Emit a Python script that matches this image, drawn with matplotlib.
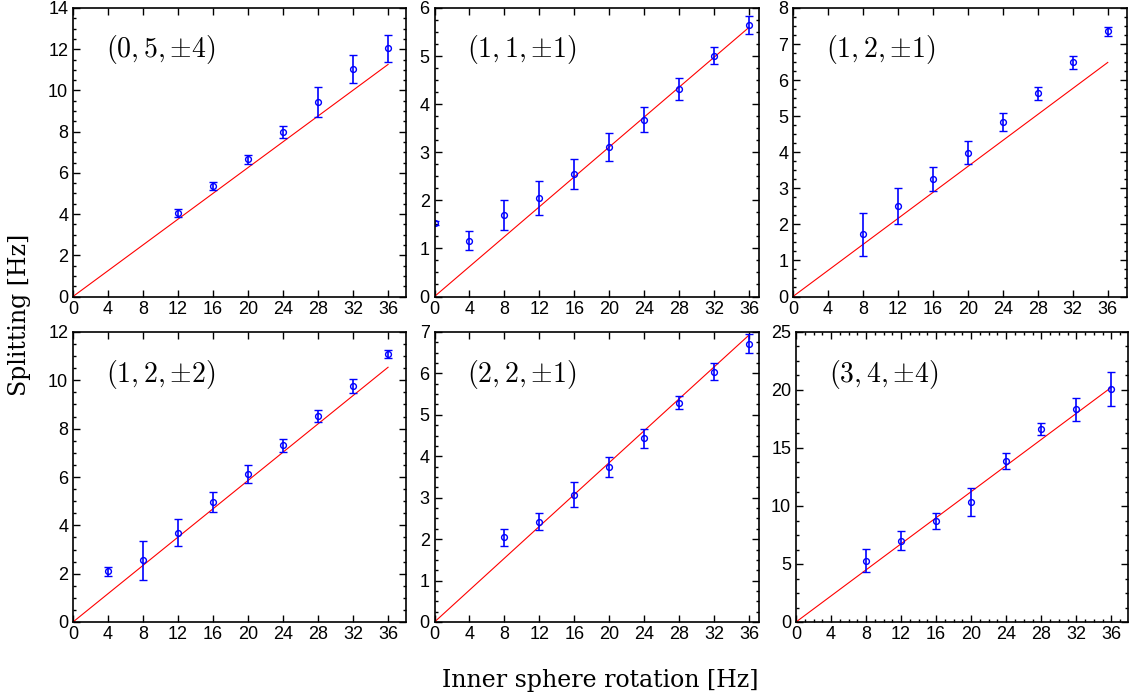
import numpy as np
import matplotlib.pyplot as plt
from matplotlib.ticker import MultipleLocator, AutoMinorLocator

plt.rcParams['mathtext.fontset'] = 'cm'

# mode labels (l, m, ±k)
labels = [r'$(0,5,{\pm}4)$', r'$(1,1,{\pm}1)$', r'$(1,2,{\pm}1)$',
          r'$(1,2,{\pm}2)$', r'$(2,2,{\pm}1)$', r'$(3,4,{\pm}4)$']

# inner sphere rotation [Hz]
rot_05_4 = [12, 16, 20, 24, 28, 32, 36]
rot_11_1 = [0, 4, 8, 12, 16, 20, 24, 28, 32, 36]
rot_12_1 = [8, 12, 16, 20, 24, 28, 32, 36]
rot_12_2 = [4, 8, 12, 16, 20, 24, 28, 32, 36]
rot_22_1 = [8, 12, 16, 20, 24, 28, 32, 36]
rot_34_4 = [8, 12, 16, 20, 24, 28, 32, 36]

# measured splitting [Hz]
split_05_4 = [4.05, 5.38, 6.66, 7.99, 9.45, 11.05, 12.04]
split_11_1 = [1.53, 1.16, 1.70, 2.05, 2.55, 3.11, 3.68, 4.31, 5.01, 5.65]
split_12_1 = [1.72, 2.50, 3.25, 3.99, 4.83, 5.63, 6.49, 7.35]
split_12_2 = [2.10, 2.55, 3.70, 4.96, 6.12, 7.31, 8.52, 9.77, 11.09]
split_22_1 = [2.04, 2.42, 3.07, 3.74, 4.43, 5.29, 6.04, 6.72]
split_34_4 = [5.30, 7.02, 8.70, 10.38, 13.90, 16.62, 18.35, 20.09]

# error bars [Hz]
err_05_4 = [0.20, 0.19, 0.22, 0.30, 0.72, 0.67, 0.66]
err_11_1 = [0.05, 0.20, 0.31, 0.36, 0.31, 0.29, 0.26, 0.23, 0.18, 0.19]
err_12_1 = [0.60, 0.50, 0.33, 0.31, 0.25, 0.19, 0.19, 0.12]
err_12_2 = [0.18, 0.80, 0.55, 0.42, 0.37, 0.27, 0.25, 0.29, 0.15]
err_22_1 = [0.20, 0.21, 0.30, 0.25, 0.22, 0.16, 0.20, 0.22]
err_34_4 = [0.98, 0.81, 0.69, 1.20, 0.71, 0.50, 1.00, 1.50]

# linear prediction: splitting / rotation
slopes = [0.3128, 0.1555, 0.1803, 0.2928, 0.1924, 0.562]
fit_range = [0, 36]

rots = [rot_05_4, rot_11_1, rot_12_1, rot_12_2, rot_22_1, rot_34_4]
splits = [split_05_4, split_11_1, split_12_1, split_12_2, split_22_1, split_34_4]
errs = [err_05_4, err_11_1, err_12_1, err_12_2, err_22_1, err_34_4]

ymax = [14, 6, 8, 12, 7, 25]
ystep = [2, 1, 1, 2, 1, 5]

W, H = 1130, 698
# panel boxes in pixels: left, right, top, bottom
boxes = [(73, 406, 8, 296.5), (434.5, 759, 8, 296.5), (793, 1127, 8, 296.5),
         (73, 406, 332, 622), (434.5, 759, 332, 622), (796, 1128, 332, 622)]
xmax = [38.05, 37.14, 38.2, 38.05, 37.14, 37.9]

fig = plt.figure(figsize=(W / 100, H / 100), dpi=100)

for i in range(6):
    l, r, t, b = boxes[i]
    ax = fig.add_axes([l / W, 1 - b / H, (r - l) / W, (b - t) / H])

    fx = np.array(fit_range)
    ax.plot(fx, slopes[i] * fx, color='red', lw=0.8)
    ax.errorbar(rots[i], splits[i], yerr=errs[i], fmt='o', ms=4.2,
                mfc='none', mec='blue', mew=1.0, ecolor='blue',
                elinewidth=1.2, capsize=3, capthick=1.2)

    ax.set_xlim(0, xmax[i])
    ax.set_ylim(0, ymax[i])
    ax.xaxis.set_major_locator(MultipleLocator(4))
    ax.yaxis.set_major_locator(MultipleLocator(ystep[i]))
    ax.yaxis.set_minor_locator(AutoMinorLocator(4))
    if i == 5:
        ax.xaxis.set_minor_locator(AutoMinorLocator(4))
    ax.tick_params(which='both', direction='in', top=True, right=True,
                   labelsize=13, width=1.0)
    ax.tick_params(which='major', length=5)
    ax.tick_params(axis='x', which='major', pad=3)
    ax.tick_params(axis='y', which='major', pad=3.5)
    ax.tick_params(which='minor', length=2.5)
    for lab in ax.get_xticklabels() + ax.get_yticklabels():
        lab.set_family('Liberation Sans')
    for sp in ax.spines.values():
        sp.set_linewidth(1.2)

    ax.text(0.1, 0.855, labels[i], transform=ax.transAxes,
            fontsize=20, va='center', ha='left')

fig.text(20 / W, 1 - 315 / H, 'Splitting [Hz]', rotation=90,
         ha='center', va='center', fontsize=17, family='DejaVu Serif')
fig.text(600 / W, 1 - 680 / H, 'Inner sphere rotation [Hz]',
         ha='center', va='center', fontsize=17, family='DejaVu Serif')

fig.savefig('out.png', dpi=100)
